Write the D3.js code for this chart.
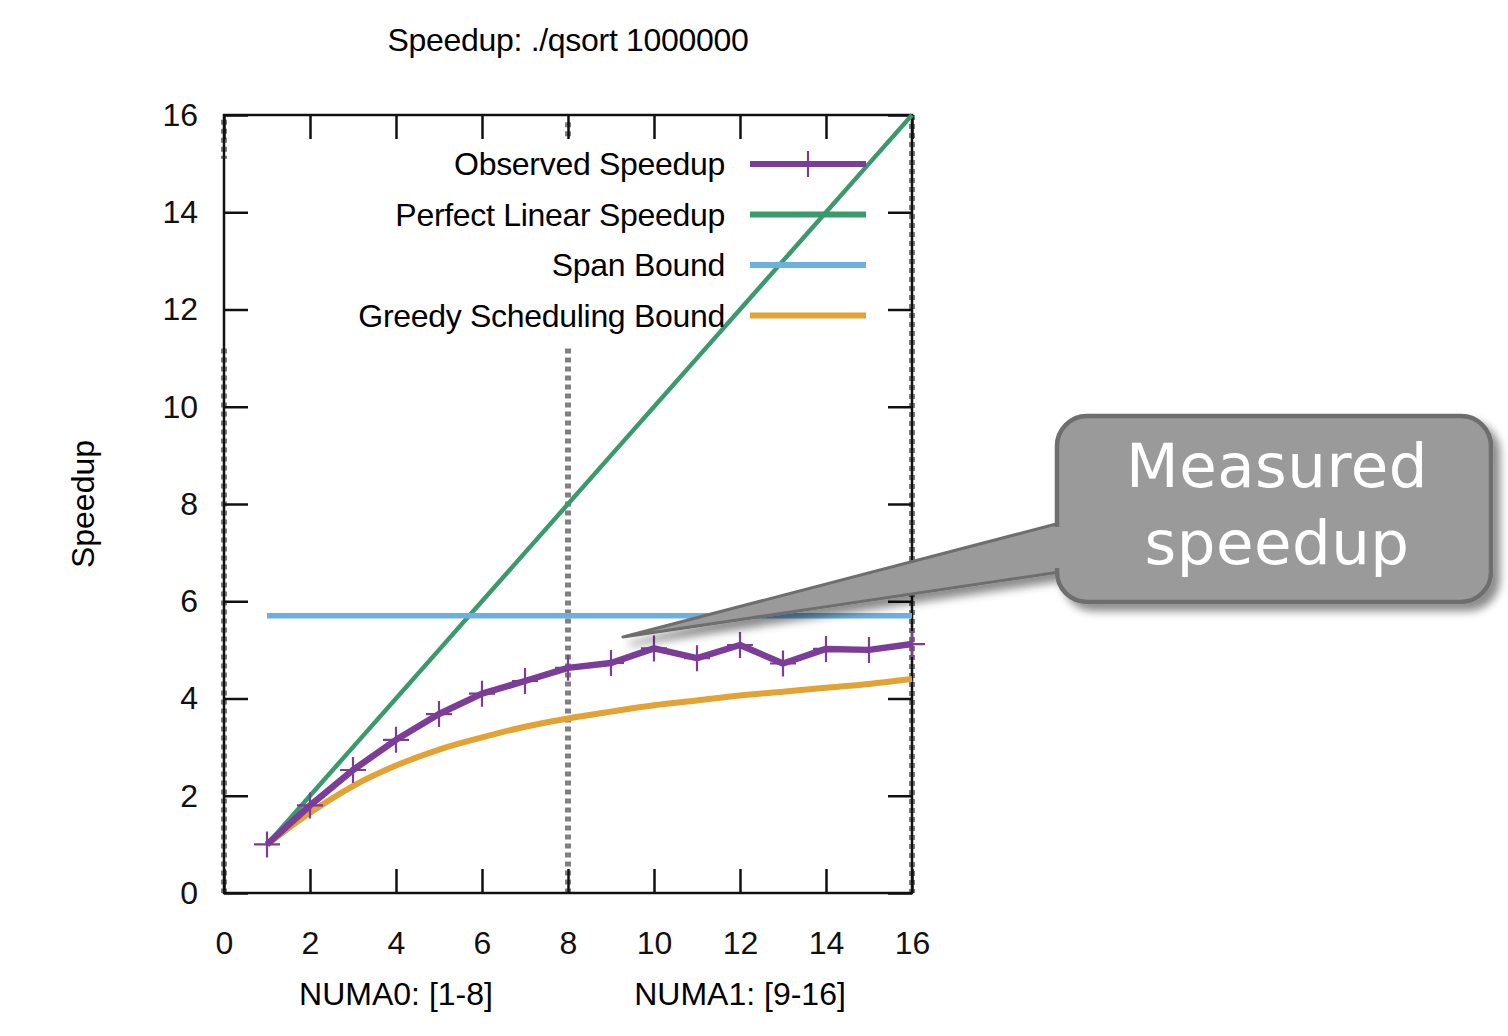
<!DOCTYPE html>
<html>
<head>
<meta charset="utf-8">
<script src="https://cdn.jsdelivr.net/npm/d3@7"></script>
<style>
  body { margin: 0; background: #fff; }
  text { font-family: "Liberation Sans", Arial, sans-serif; }
</style>
</head>
<body>
<script>
var svgWidth = 1508;
var svgHeight = 1036;

// data
var cores = [1, 2, 3, 4, 5, 6, 7, 8, 9, 10, 11, 12, 13, 14, 15, 16];
var observed = [1.0, 1.8, 2.53, 3.15, 3.68, 4.1, 4.36, 4.63, 4.73, 5.03, 4.83, 5.1, 4.72, 5.02, 5.0, 5.12];
var linear = [1, 2, 3, 4, 5, 6, 7, 8, 9, 10, 11, 12, 13, 14, 15, 16];
var spanBound = [5.7, 5.7];
var spanCores = [1, 16];
var greedy = [1.0, 1.65, 2.2, 2.62, 2.95, 3.2, 3.42, 3.59, 3.73, 3.86, 3.96, 4.06, 4.14, 4.22, 4.3, 4.4];
var xTicks = [0, 2, 4, 6, 8, 10, 12, 14, 16];
var yTicks = [0, 2, 4, 6, 8, 10, 12, 14, 16];
var legendNames = ["Observed Speedup", "Perfect Linear Speedup", "Span Bound", "Greedy Scheduling Bound"];
var legendColors = ["#7b3d98", "#3b9a6d", "#6cb0e0", "#e2a234"];
var numaLabels = [{x: 4, text: "NUMA0: [1-8]"}, {x: 12, text: "NUMA1: [9-16]"}];

var chartMargin = {top: 115, left: 224, right: 596, bottom: 143};
var chartWidth = svgWidth - chartMargin.left - chartMargin.right;
var chartHeight = svgHeight - chartMargin.top - chartMargin.bottom;

var svg = d3.select('body').append('svg')
    .attr('width', svgWidth)
    .attr('height', svgHeight);

var defs = svg.append('defs');
var shadow = defs.append('filter').attr('id', 'shadow')
    .attr('x', '-10%').attr('y', '-10%').attr('width', '130%').attr('height', '140%');
shadow.append('feDropShadow')
    .attr('dx', 7).attr('dy', 7).attr('stdDeviation', 4)
    .attr('flood-color', '#000').attr('flood-opacity', 0.45);

var chartGroup = svg.append('g')
    .attr('transform', `translate(${chartMargin.left}, ${chartMargin.top})`);

var x = d3.scaleLinear().domain([0, 16]).range([0, chartWidth]);
var y = d3.scaleLinear().domain([0, 16]).range([chartHeight, 0]);

// title
svg.append('text')
    .attr('x', 568).attr('y', 51)
    .attr('text-anchor', 'middle')
    .style('font-size', '32px')
    .style('letter-spacing', '-0.3px')
    .text('Speedup: ./qsort 1000000');

// dotted guide lines (NUMA boundary and frame edges)
var dotStyle = g => g.attr('stroke', '#808080').attr('stroke-width', 6).attr('stroke-dasharray', '5,4');
chartGroup.append('line').call(dotStyle)
    .attr('x1', x(8)).attr('x2', x(8)).attr('y1', y(11.2)).attr('y2', y(0));
chartGroup.append('line').call(dotStyle)
    .attr('x1', x(8)).attr('x2', x(8)).attr('y1', y(15.85)).attr('y2', y(15.5));
chartGroup.append('line').call(dotStyle)
    .attr('x1', x(0)).attr('x2', x(0)).attr('y1', y(11.2)).attr('y2', y(0));
chartGroup.append('line').call(dotStyle)
    .attr('x1', x(0)).attr('x2', x(0)).attr('y1', y(15.9)).attr('y2', y(15.1));
chartGroup.append('line').call(dotStyle)
    .attr('x1', x(16)).attr('x2', x(16)).attr('y1', y(16)).attr('y2', y(0));

// frame
chartGroup.append('rect')
    .attr('width', chartWidth).attr('height', chartHeight)
    .attr('fill', 'none').attr('stroke', '#111').attr('stroke-width', 2.5);

// axes with inward ticks on all four sides
var tickLen = 24;
chartGroup.append('g')
    .attr('transform', `translate(0, ${chartHeight})`)
    .call(d3.axisBottom(x).tickValues(xTicks).tickSize(-tickLen).tickPadding(tickLen + 14))
    .call(g => g.select('.domain').remove());
chartGroup.append('g')
    .call(d3.axisTop(x).tickValues(xTicks).tickSize(-tickLen).tickFormat(''))
    .call(g => g.select('.domain').remove());
chartGroup.append('g')
    .call(d3.axisLeft(y).tickValues(yTicks).tickSize(-tickLen).tickPadding(tickLen + 2))
    .call(g => g.select('.domain').remove());
chartGroup.append('g')
    .attr('transform', `translate(${chartWidth}, 0)`)
    .call(d3.axisRight(y).tickValues(yTicks).tickSize(-tickLen).tickFormat(''))
    .call(g => g.select('.domain').remove());

chartGroup.selectAll('.tick line').attr('stroke', '#111').attr('stroke-width', 2.5);
chartGroup.selectAll('.tick text')
    .attr('fill', '#111')
    .style('font-size', '32px')
    .style('font-family', '"Liberation Sans", Arial, sans-serif');

// axis labels
svg.append('text')
    .attr('transform', 'translate(94, 504) rotate(-90)')
    .attr('text-anchor', 'middle')
    .style('font-size', '32px')
    .text('Speedup');

chartGroup.selectAll('.numa')
    .data(numaLabels)
    .enter().append('text')
    .attr('class', 'numa')
    .attr('x', d => x(d.x))
    .attr('y', chartHeight + 112)
    .attr('text-anchor', 'middle')
    .style('font-size', '32px')
    .text(d => d.text);

// series
var line = d3.line().x(d => x(d[0])).y(d => y(d[1]));

chartGroup.append('path')
    .datum(d3.zip(cores, linear))
    .attr('fill', 'none').attr('stroke', legendColors[1]).attr('stroke-width', 4.5)
    .attr('d', line);

chartGroup.append('path')
    .datum(d3.zip(spanCores, spanBound))
    .attr('fill', 'none').attr('stroke', legendColors[2]).attr('stroke-width', 5.5)
    .attr('d', line);

chartGroup.append('path')
    .datum(d3.zip(cores, greedy))
    .attr('fill', 'none').attr('stroke', legendColors[3]).attr('stroke-width', 6)
    .attr('d', line.curve(d3.curveMonotoneX));
line.curve(d3.curveLinear);

chartGroup.append('path')
    .datum(d3.zip(cores, observed))
    .attr('fill', 'none').attr('stroke', legendColors[0]).attr('stroke-width', 6.5)
    .attr('stroke-linejoin', 'round')
    .attr('d', line);

var plusSize = 13;
chartGroup.selectAll('.pt')
    .data(d3.zip(cores, observed))
    .enter().append('path')
    .attr('class', 'pt')
    .attr('transform', d => `translate(${x(d[0])}, ${y(d[1])})`)
    .attr('d', `M${-plusSize},0H${plusSize}M0,${-plusSize}V${plusSize}`)
    .attr('stroke', legendColors[0]).attr('stroke-width', 2.2);

// legend
var legend = svg.append('g').attr('transform', 'translate(725, 164)');
var rows = legend.selectAll('.row')
    .data(legendNames)
    .enter().append('g')
    .attr('class', 'row')
    .attr('transform', (d, i) => `translate(0, ${i * 50.5})`);
rows.append('text')
    .attr('x', 0).attr('y', 11)
    .attr('text-anchor', 'end')
    .style('font-size', '32px')
    .style('letter-spacing', '-0.3px')
    .text(d => d);
rows.append('line')
    .attr('x1', 25).attr('x2', 141)
    .attr('stroke', (d, i) => legendColors[i])
    .attr('stroke-width', 6);
legend.append('path')
    .attr('d', `M83,${-plusSize}V${plusSize}`)
    .attr('stroke', legendColors[0]).attr('stroke-width', 2.2);

// callout
var callout = svg.append('g').attr('filter', 'url(#shadow)');
callout.append('path')
    .attr('d', 'M1060,523 L623,637 L1060,572 Z')
    .attr('fill', '#9a9a9a').attr('stroke', '#6e6e6e').attr('stroke-width', 3)
    .attr('stroke-linejoin', 'round');
callout.append('rect')
    .attr('x', 1057).attr('y', 416)
    .attr('width', 434).attr('height', 186)
    .attr('rx', 30).attr('ry', 30)
    .attr('fill', '#9a9a9a').attr('stroke', '#6e6e6e').attr('stroke-width', 4.5);
// cover seam between pointer and box
svg.append('rect')
    .attr('x', 1050).attr('y', 527)
    .attr('width', 14).attr('height', 41)
    .attr('fill', '#9a9a9a');

svg.selectAll('.callout-text')
    .data(['Measured', 'speedup'])
    .enter().append('text')
    .attr('class', 'callout-text')
    .attr('x', 1277)
    .attr('y', (d, i) => 487 + i * 77)
    .attr('text-anchor', 'middle')
    .attr('fill', '#fff')
    .style('font-family', '"DejaVu Sans", Verdana, sans-serif')
    .style('font-size', '61px')
    .style('letter-spacing', '0.5px')
    .text(d => d);
</script>
</body>
</html>
